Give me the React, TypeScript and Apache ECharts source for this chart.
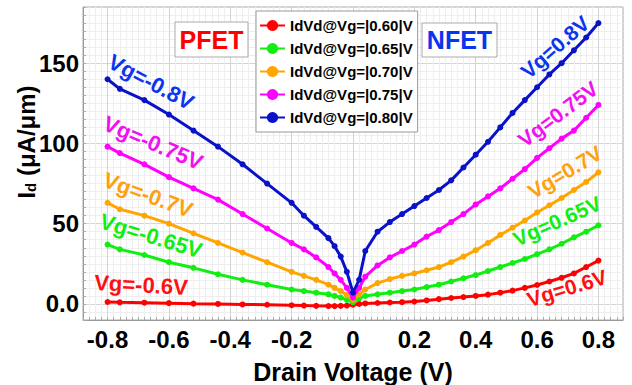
import React, { useEffect, useRef } from 'react';
import * as echarts from 'echarts';

const FONT = '"Liberation Sans", Arial, Helvetica, sans-serif';

// Drain voltage sample points (V)
const pfetVd = [-0.8, -0.76, -0.68, -0.6, -0.52, -0.44, -0.36, -0.28, -0.2, -0.16, -0.12, -0.08, -0.06, -0.04, -0.02, 0];
const nfetVd = [0, 0.02, 0.04, 0.08, 0.12, 0.16, 0.2, 0.24, 0.28, 0.32, 0.36, 0.4, 0.44, 0.48, 0.52, 0.56, 0.6, 0.64, 0.68, 0.72, 0.76, 0.8];

// Id (uA/um), PFET side
const pRed = [1.2, 1.0, 0.8, 0.5, 0.2, 0, -0.3, -0.5, -0.8, -1, -1.2, -1.3, -1.3, -1.2, -1, -0.5];
const pGreen = [37, 34, 30.5, 26, 22.5, 18.5, 15, 12, 9, 8, 7, 6, 5, 4, 2.5, 1];
const pOrange = [63, 59, 55, 50, 44, 38, 32, 26, 20, 17.5, 15, 12, 10, 8, 5.5, 2.5];
const pMagenta = [98, 94, 87, 79, 72, 65, 56, 47, 38, 34, 29, 23, 19, 15, 10, 4];
const pBlue = [140, 134, 127, 118, 108, 98, 87, 75, 63, 55, 48, 41, 36, 29.5, 20, 7];

// Id (uA/um), NFET side
const nRed = [-0.5, 0, 0.3, 0.6, 0.9, 1.1, 1.5, 2.2, 3, 3.7, 4.3, 5, 5.8, 7, 8.3, 10, 11.8, 14, 16.3, 19, 23, 27];
const nGreen = [1, 3.5, 5, 6, 7, 8, 9, 10.5, 12, 14, 16, 18, 20.5, 23, 25.5, 28, 31, 34, 37.5, 41.5, 45, 49];
const nOrange = [2.5, 6, 9, 13, 15.5, 17.5, 19, 21, 23, 26, 29.5, 33.5, 38, 43, 47.5, 52, 57, 61.5, 66, 71, 76, 82];
const nMagenta = [4, 10, 17, 24, 29, 33, 37, 42, 46, 51, 56, 62, 67, 72, 78, 84, 91, 97, 103, 108, 116, 124];
const nBlue = [7, 15, 33, 45, 51, 56, 61, 66, 71, 77, 85, 93, 101, 110, 119, 127, 135, 143, 150, 158, 166, 175];

const seriesNames = ['IdVd@Vg=|0.60|V', 'IdVd@Vg=|0.65|V', 'IdVd@Vg=|0.70|V', 'IdVd@Vg=|0.75|V', 'IdVd@Vg=|0.80|V'];
const lineColors = ['#ff0000', '#11ee11', '#ffa500', '#ff00ff', '#0a12c8'];
const pfetValues = [pRed, pGreen, pOrange, pMagenta, pBlue];
const nfetValues = [nRed, nGreen, nOrange, nMagenta, nBlue];

const leftLabels = ['Vg=-0.6V', 'Vg=-0.65V', 'Vg=-0.7V', 'Vg=-0.75V', 'Vg=-0.8V'];
const rightLabels = ['Vg=0.6V', 'Vg=0.65V', 'Vg=0.7V', 'Vg=0.75V', 'Vg=0.8V'];
const labelColors = ['#ff1010', '#11ee11', '#ffa010', '#f010f0', '#0a34ee'];

const xTitle = 'Drain Voltage (V)';

function buildPairs(i: number): number[][] {
  const a = pfetVd.map((v, k) => [v, pfetValues[i][k]]);
  const b = nfetVd.slice(1).map((v, k) => [v, nfetValues[i][k + 1]]);
  return a.concat(b);
}

const deg = (d: number) => (d * Math.PI) / 180;

export default function App() {
  const ref = useRef<HTMLDivElement>(null);
  useEffect(() => {
    const chart = echarts.init(ref.current!, null, { renderer: 'svg' });

    // [cx, cy, angle in degrees; positive = descending to the right]
    const leftPos = [
      [141, 285, 3], [151, 236, 17], [148, 195, 20], [153, 143, 23], [151, 82, 28],
    ];
    // positive = ascending to the right
    const rightPos = [
      [567, 288, 17], [557, 221, 24], [565, 172, 31], [558, 114, 37], [555, 47, 41],
    ];
    const labelEls: any[] = [];
    leftLabels.forEach((t, i) => {
      labelEls.push({
        type: 'text', x: leftPos[i][0], y: leftPos[i][1], rotation: deg(-leftPos[i][2]), z: 20,
        style: { text: t, fill: labelColors[i], font: `bold 22px ${FONT}`, align: 'center', verticalAlign: 'middle' },
      });
    });
    rightLabels.forEach((t, i) => {
      labelEls.push({
        type: 'text', x: rightPos[i][0], y: rightPos[i][1], rotation: deg(rightPos[i][2]), z: 20,
        style: { text: t, fill: labelColors[i], font: `bold 21px ${FONT}`, align: 'center', verticalAlign: 'middle' },
      });
    });

    const xFmt = (v: number) => {
      const k = Math.round(v * 5);
      if (Math.abs(v * 5 - k) > 1e-6) return '';
      return k === 0 ? '0' : (k / 5).toFixed(1);
    };
    const yFmt = (v: number) => {
      const r = Math.round(v);
      if (Math.abs(v - r) > 1e-6 || r % 50 !== 0) return '';
      return r === 0 ? '0.0' : String(r);
    };

    const option: any = {
      animation: false,
      backgroundColor: '#fff',
      grid: {
        left: 83, right: 9, top: 7, bottom: 65,
        show: true, borderColor: '#aaa', borderWidth: 1, backgroundColor: '#fff',
      },
      legend: {
        orient: 'vertical', left: 256, top: 11,
        backgroundColor: '#fff', borderColor: '#999', borderWidth: 1,
        padding: [7, 5, 7, 3], itemWidth: 25, itemHeight: 14, itemGap: 8,
        textStyle: { fontSize: 15, fontWeight: 'bold', color: '#000', fontFamily: FONT },
        data: seriesNames,
        z: 10,
      },
      xAxis: [
        {
          type: 'value', min: -0.88, max: 0.88, interval: 0.02, position: 'bottom',
          axisLine: { show: true, onZero: false, lineStyle: { color: '#999', width: 1 } },
          axisTick: { show: true, inside: true, length: 3, lineStyle: { color: '#aaa' } },
          axisLabel: { interval: 0, formatter: xFmt, fontSize: 24, fontWeight: 'bold', color: '#000', margin: 7, fontFamily: FONT },
          splitLine: { show: true, lineStyle: { color: '#eeeeee', width: 1 } },
        },
        {
          type: 'value', min: -0.88, max: 0.88, splitNumber: 8, position: 'top',
          axisLine: { show: false, onZero: false }, axisTick: { show: false }, axisLabel: { show: false },
          splitLine: { show: true, lineStyle: { color: '#d4d4d4', width: 1 } },
        },
      ],
      yAxis: [
        {
          type: 'value', min: -10, max: 185, interval: 5, position: 'left',
          axisLine: { show: true, onZero: false, lineStyle: { color: '#999', width: 1 } },
          axisTick: { show: true, inside: true, length: 3, lineStyle: { color: '#aaa' } },
          axisLabel: { interval: 0, formatter: yFmt, fontSize: 24, fontWeight: 'bold', color: '#000', margin: 4, fontFamily: FONT },
          splitLine: { show: true, lineStyle: { color: '#eeeeee', width: 1 } },
        },
        {
          type: 'value', min: -10, max: 185, splitNumber: 4, position: 'right',
          axisLine: { show: false, onZero: false }, axisTick: { show: false }, axisLabel: { show: false },
          splitLine: { show: true, lineStyle: { color: '#d4d4d4', width: 1 } },
        },
      ],
      series: seriesNames.map((name, i) => ({
        name, type: 'line', xAxisIndex: 0, yAxisIndex: 0,
        data: buildPairs(i),
        symbol: 'circle', symbolSize: 6, showSymbol: true, showAllSymbol: true,
        lineStyle: { color: lineColors[i], width: 3 },
        itemStyle: { color: lineColors[i] },
        z: 2 + i,
      })),
      graphic: [
        {
          type: 'rect', shape: { x: 175, y: 22, width: 73, height: 35 }, z: 15,
          style: { fill: '#fff', stroke: '#aaa', lineWidth: 1 },
        },
        {
          type: 'text', x: 211.5, y: 40, z: 16,
          style: { text: 'PFET', fill: '#ff0000', font: `bold 25px ${FONT}`, align: 'center', verticalAlign: 'middle' },
        },
        {
          type: 'rect', shape: { x: 422, y: 23, width: 75, height: 34 }, z: 15,
          style: { fill: '#fff', stroke: '#aaa', lineWidth: 1 },
        },
        {
          type: 'text', x: 459.5, y: 40, z: 16,
          style: { text: 'NFET', fill: '#0a34ee', font: `bold 25px ${FONT}`, align: 'center', verticalAlign: 'middle' },
        },
        {
          type: 'text', x: 353, y: 372, z: 16,
          style: { text: xTitle, fill: '#000', font: `bold 25px ${FONT}`, align: 'center', verticalAlign: 'middle' },
        },
        {
          type: 'text', x: 26, y: 142, rotation: Math.PI / 2, z: 16,
          style: {
            text: '{a|I}{b|d}{a| (μA/μm)}',
            align: 'center', verticalAlign: 'middle',
            rich: {
              a: { fontSize: 24, fontWeight: 'bold', fontFamily: FONT, fill: '#000' },
              b: { fontSize: 15, fontWeight: 'bold', fontFamily: FONT, fill: '#000', verticalAlign: 'bottom' },
            },
          },
        },
        ...labelEls,
      ],
    };
    chart.setOption(option);
    return () => chart.dispose();
  }, []);
  return <div ref={ref} style={{ width: 632, height: 385, position: 'absolute', left: 0, top: 0 }} />;
}
